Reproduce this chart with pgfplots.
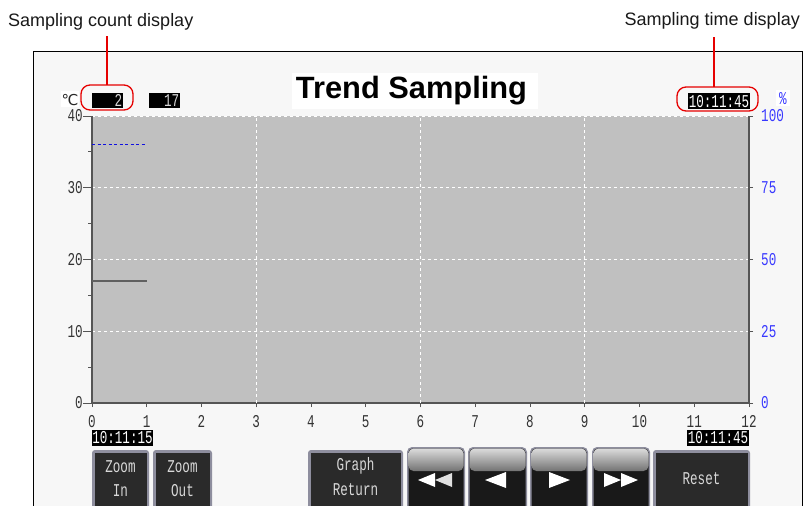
\documentclass[border=0pt]{standalone}
\usepackage{pgfplots}
\pgfplotsset{compat=1.18}
\usepackage{fontspec}
\setmainfont{Liberation Sans}
\newfontfamily\hmi[FakeStretch=0.7]{Liberation Mono}
\newfontfamily\dv{DejaVu Sans}
\newcommand\hmif{\hmi\fontsize{18}{18}\selectfont}
\definecolor{panelbg}{HTML}{F7F7F7}
\definecolor{plotgray}{HTML}{C0C0C0}
\definecolor{axisdark}{HTML}{555555}
\definecolor{tickblue}{HTML}{3838FF}
\definecolor{annred}{HTML}{E60000}
\definecolor{btnborder}{HTML}{8E8E9E}
\definecolor{btndark}{HTML}{2A2A2A}
\definecolor{btntext}{HTML}{D8D8D8}
\definecolor{linegray}{HTML}{606060}
\definecolor{lineblue}{HTML}{1010E0}
\newcommand\darkbtn[2]{%
  \fill[btnborder, rounded corners=3pt] (#1,450) rectangle (#2,520);
  \fill[btndark] (#1+2.5,452.5) rectangle (#2-2.5,520);}
\newcommand\arrbtn[2]{%
  \fill[btnborder, rounded corners=5pt] (#1,447) rectangle (#2,520);
  \fill[black!90, rounded corners=4pt] (#1+1.5,448.5) rectangle (#2-1.5,520);
  \shade[top color=black!14, bottom color=black!55, rounded corners=5pt] (#1+1.5,448.5) rectangle (#2-1.5,471);}
\begin{document}
\begin{tikzpicture}
\useasboundingbox (0,0) rectangle (809pt,-506pt);
\begin{scope}[x=1pt,y=-1pt]
  \clip (0,0) rectangle (809,506);
  \fill[white] (0,0) rectangle (809,506);
  \fill[panelbg, draw=black, line width=1pt] (33,51) rectangle (802,540);
\end{scope}
\begin{axis}[
  at={(92pt,-403pt)}, anchor=south west,
  scale only axis, width=657pt, height=287pt,
  xmin=0, xmax=12, ymin=0, ymax=40,
  axis background/.style={fill=plotgray},
  axis x line*=bottom, axis y line*=left,
  axis line style={draw=axisdark, line width=1.3pt, -},
  xtick={0,...,12}, ytick={0,10,...,40},
  minor ytick={5,15,25,35},
  tick align=outside,
  major tick length=9pt, minor tick length=4pt,
  xtick style={/pgfplots/major tick length=4pt},
  tick style={draw=axisdark, line width=1pt},
  extra x ticks={3,6,9}, extra x tick labels={},
  extra x tick style={grid=major, /pgfplots/major tick length=8pt},
  ymajorgrids,
  grid style={draw=white, dash pattern=on 3pt off 3pt, line width=1pt},
  /pgf/number format/assume math mode=true,
  ticklabel style={font=\hmif, text=black!80},
  yticklabel style={inner sep=0pt},
  xticklabel style={inner sep=0pt, yshift=-3pt},
]
\addplot[linegray, line width=1.3pt] coordinates {(0,17) (1,17)};
\end{axis}
\begin{axis}[
  at={(92pt,-403pt)}, anchor=south west,
  scale only axis, width=657pt, height=287pt,
  xmin=0, xmax=12, ymin=0, ymax=100,
  axis x line=none, axis y line*=right,
  axis line style={draw=axisdark, line width=1.3pt, -},
  ytick={0,25,...,100},
  tick align=outside, major tick length=4pt,
  tick style={draw=axisdark, line width=1pt},
  /pgf/number format/assume math mode=true,
  yticklabel style={font=\hmif, text=tickblue, inner sep=0pt, xshift=8pt},
]
\addplot[lineblue, line width=1pt, dash pattern=on 3pt off 2.5pt] coordinates {(0,90) (1,90)};
\end{axis}
\begin{scope}[x=1pt,y=-1pt]
  \clip (0,0) rectangle (809,506);
  % annotations
  \node[anchor=base west, inner sep=0, text=black!90, font=\fontsize{18}{18}\selectfont] at (8,26) {Sampling count display};
  \node[anchor=base east, inner sep=0, text=black!90, font=\fontsize{18}{18}\selectfont] at (800,25) {Sampling time display};
  \draw[annred, line width=1.5pt] (107,36) -- (107,85);
  \draw[annred, line width=1.5pt] (714,37) -- (714,87);
  % title
  \fill[white] (292,73) rectangle (538,109);
  \node[anchor=base, inner sep=0, font=\bfseries\fontsize{30.8}{32}\selectfont] at (411.5,98) {Trend Sampling};
  % unit labels
  \fill[white] (61,91) rectangle (79,107);
  \node[anchor=base, inner sep=0, text=black!85, font=\dv\fontsize{15}{15}\selectfont] at (70,105) {℃};
  \fill[white] (776,90) rectangle (790,106);
  \node[anchor=base, inner sep=0, text=tickblue, font=\hmif] at (783,104) {\%};
  % value boxes
  \fill[black] (92,93) rectangle (123,108);
  \node[anchor=base east, inner sep=0, text=btntext, font=\hmif] at (122.5,106.5) {2};
  \fill[black] (149,93) rectangle (180,108);
  \node[anchor=base east, inner sep=0, text=btntext, font=\hmif] at (179.5,106.5) {17};
  \fill[black] (688,93) rectangle (750,109);
  \node[anchor=base, inner sep=0, text=white, font=\hmif] at (719,107) {10:11:45};
  \draw[annred, line width=1.3pt, rounded corners=9pt] (81,85) rectangle (133,110);
  \draw[annred, line width=1.3pt, rounded corners=9pt] (677,87) rectangle (758,111);
  % bottom time labels
  \fill[black] (92,429.5) rectangle (153,445.5);
  \node[anchor=base, inner sep=0, text=white, font=\hmif] at (122.5,443.5) {10:11:15};
  \fill[black] (687,429.5) rectangle (749,445.5);
  \node[anchor=base, inner sep=0, text=white, font=\hmif] at (718,443.5) {10:11:45};
  % buttons
  \darkbtn{92}{149}
  \darkbtn{153}{212}
  \darkbtn{308}{403}
  \darkbtn{653}{750}
  \node[text=btntext, font=\hmif] at (120.5,467) {Zoom};
  \node[text=btntext, font=\hmif] at (120.5,491) {In};
  \node[text=btntext, font=\hmif] at (182.5,467) {Zoom};
  \node[text=btntext, font=\hmif] at (182.5,491) {Out};
  \node[text=btntext, font=\hmif] at (355.5,466) {Graph};
  \node[text=btntext, font=\hmif] at (355.5,490) {Return};
  \node[text=btntext, font=\hmif] at (701.5,479) {Reset};
  \arrbtn{407}{465}
  \arrbtn{468}{527}
  \arrbtn{530}{588}
  \arrbtn{592}{650}
  \fill[white] (418,480) -- (435,473) -- (435,487) -- cycle;
  \fill[white!88!black] (435,480) -- (452,473) -- (452,487) -- cycle;
  \fill[white] (485,480) -- (506,472) -- (506,488) -- cycle;
  \fill[white] (570,480) -- (549,472) -- (549,488) -- cycle;
  \fill[white] (621,480) -- (604,473) -- (604,487) -- cycle;
  \fill[white] (638,480) -- (621,473) -- (621,487) -- cycle;
\end{scope}
\end{tikzpicture}
\end{document}
